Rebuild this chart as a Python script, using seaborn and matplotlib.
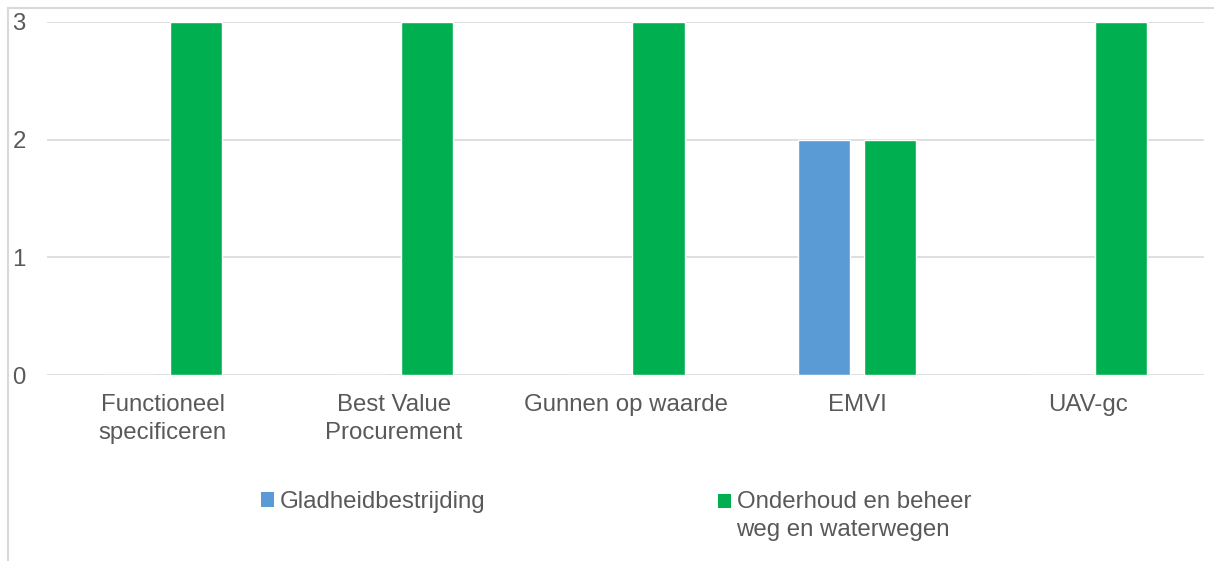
import matplotlib
matplotlib.use("Agg")
import matplotlib.pyplot as plt
import seaborn as sns
import pandas as pd
from matplotlib.patches import Patch, Rectangle
from matplotlib.lines import Line2D
from matplotlib.legend_handler import HandlerPatch

categories = ["Functioneel\nspecificeren", "Best Value\nProcurement", "Gunnen op waarde", "EMVI", "UAV-gc"]
series_names = ["Gladheidbestrijding", "Onderhoud en beheer\nweg en waterwegen"]
gladheid = [0, 0, 0, 2, 0]
onderhoud = [3, 3, 3, 2, 3]
y_ticks = [0, 1, 2, 3]
colors = ["#5B9BD5", "#00B050"]

FS = 17.3
TEXT_COLOR = "#595959"
GRID_COLOR = "#D9D9D9"

df = pd.DataFrame({
    "categorie": categories * 2,
    "waarde": gladheid + onderhoud,
    "reeks": [series_names[0]] * len(categories) + [series_names[1]] * len(categories),
})

sns.set_theme(style="white")
plt.rcParams["font.family"] = ["Liberation Sans", "DejaVu Sans"]

fig = plt.figure(figsize=(12.14, 5.61), dpi=100)
ax = fig.add_axes([47 / 1214, 1 - 375 / 561, (1204 - 47) / 1214, (375 - 22) / 561])

sns.barplot(data=df, x="categorie", y="waarde", hue="reeks", order=categories,
            hue_order=series_names, palette=colors, width=0.57, gap=0.21,
            saturation=1, legend=False, ax=ax, zorder=3)

ax.set_ylim(0, 3)
ax.set_yticks(y_ticks)
ax.set_xlim(-0.5, len(categories) - 0.5)
ax.set_xlabel("")
ax.set_ylabel("")
for s in ax.spines.values():
    s.set_visible(False)
ax.grid(axis="y", color=GRID_COLOR, linewidth=1.2, zorder=0)
ax.tick_params(axis="both", length=0, labelsize=FS, labelcolor=TEXT_COLOR)
ax.tick_params(axis="y", pad=25)
for lbl in ax.get_yticklabels():
    lbl.set_horizontalalignment("left")
ax.tick_params(axis="x", pad=14)
for lbl in ax.get_xticklabels():
    lbl.set_linespacing(1.35)

# chart frame lines
fig.add_artist(Line2D([8 / 1214, 8 / 1214], [0, 1 - 8 / 561], transform=fig.transFigure,
                      color=GRID_COLOR, linewidth=1.5))
fig.add_artist(Line2D([8 / 1214, 1], [1 - 8 / 561, 1 - 8 / 561], transform=fig.transFigure,
                      color=GRID_COLOR, linewidth=1.5))


class TopSquareHandler(HandlerPatch):
    """Square legend key aligned with the first line of a wrapped label."""

    def __init__(self, dy=0.0, **kw):
        super().__init__(**kw)
        self.dy = dy

    def create_artists(self, legend, orig_handle, xdescent, ydescent, width, height,
                       fontsize, trans):
        r = Rectangle((-xdescent, -ydescent + self.dy * fontsize), width, height,
                      facecolor=orig_handle.get_facecolor(), edgecolor="none")
        r.set_transform(trans)
        return [r]


legend_kw = dict(loc="upper left", frameon=False, fontsize=FS, labelcolor=TEXT_COLOR,
                 handlelength=0.55, handleheight=0.55, handletextpad=0.22,
                 borderpad=0, borderaxespad=0)

h0 = Patch(facecolor=colors[0], edgecolor="none")
h1 = Patch(facecolor=colors[1], edgecolor="none")
leg0 = fig.legend([h0], [series_names[0]], bbox_to_anchor=(261 / 1214, 1 - 491 / 561),
                  handler_map={h0: TopSquareHandler(0.0)}, **legend_kw)
leg1 = fig.legend([h1], [series_names[1]], bbox_to_anchor=(718 / 1214, 1 - 491 / 561),
                  handler_map={h1: TopSquareHandler(0.62)}, **legend_kw)
for t in leg1.get_texts():
    t.set_linespacing(1.35)

fig.savefig("out.png", dpi=100)
